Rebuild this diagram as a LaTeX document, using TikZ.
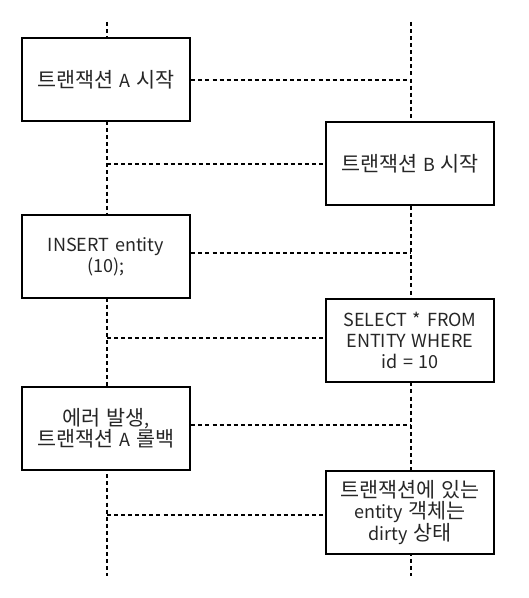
\documentclass[tikz,border=0pt]{standalone}
\usepackage{fontspec}
\setmainfont{Noto Sans CJK KR}
\newfontfamily\kr{Noto Sans CJK KR}[Scale=1.15]
\newcommand\evfont{\fontsize{13.5pt}{16pt}\selectfont\spaceskip=0.32em plus 0.1em minus 0.05em\relax}
\begin{document}
\begin{tikzpicture}[x=0.75pt,y=-0.75pt,
  evbox/.style={draw=black,line width=2pt,fill=white,minimum width=168*0.75pt,minimum height=83*0.75pt,
    align=center,inner sep=0pt,font=\evfont,text=black!85},
  life/.style={draw=black,line width=0.8pt,dash pattern=on 3pt off 2.3pt},
  msg/.style={draw=black,line width=0.8pt,dash pattern=on 3pt off 2.3pt}]
\useasboundingbox (0,0) rectangle (528,598);
\coordinate (Ltop) at (107,22);
\coordinate (Lbot) at (107,576);
\coordinate (Rtop) at (411,22);
\coordinate (Rbot) at (411,576);
\draw[life] (Ltop) -- (Lbot);
\draw[life] (Rtop) -- (Rbot);
\node[evbox] (a1) at (106,79.5) {{\kr 트랜잭션} A {\kr 시작}};
\node[evbox] (b1) at (410,163.5) {{\kr 트랜잭션} B {\kr 시작}};
\node[evbox] (a2) at (106,256.5) {INSERT entity\\(10);};
\node[evbox] (b2) at (410,340.5) {SELECT * FROM\\ENTITY WHERE\\id = 10};
\node[evbox] (a3) at (106,428.5) {{\kr 에러 발생},\\{\kr 트랜잭션} A {\kr 롤백}};
\node[evbox] (b3) at (410,512.5) {{\kr 트랜잭션에 있는}\\entity {\kr 객체는}\\dirty {\kr 상태}};
\coordinate (r1) at (411,80);
\coordinate (l1) at (107,164);
\coordinate (r2) at (411,253);
\coordinate (l2) at (107,338);
\coordinate (r3) at (411,425);
\coordinate (l3) at (107,515);
\draw[msg] (a1.east |- r1) -- (r1);
\draw[msg] (l1) -- (b1.west |- l1);
\draw[msg] (a2.east |- r2) -- (r2);
\draw[msg] (l2) -- (b2.west |- l2);
\draw[msg] (a3.east |- r3) -- (r3);
\draw[msg] (l3) -- (b3.west |- l3);
\end{tikzpicture}
\end{document}
